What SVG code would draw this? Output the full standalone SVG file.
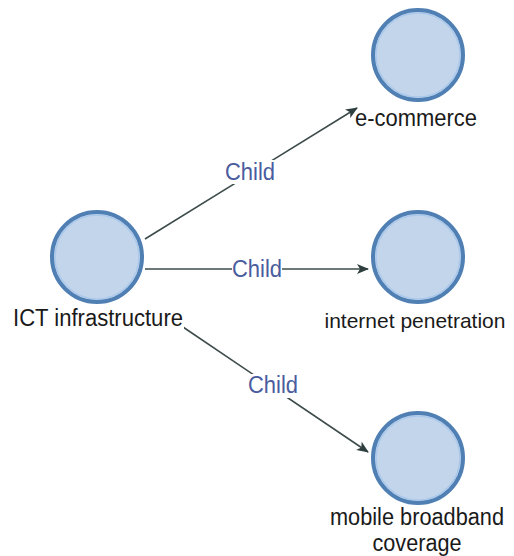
<svg xmlns="http://www.w3.org/2000/svg" width="514" height="556" viewBox="0 0 514 556">
<defs>
<style>
.node circle.o{fill:#c3d5ea;stroke:#4f7fb3;stroke-width:4}
.node circle.i{fill:none;stroke:#a9c8ec;stroke-width:1.5}
.lbl{font-family:"Liberation Sans",Arial,sans-serif;font-size:23px;fill:#1a1a1a;text-anchor:middle}
.edge{stroke:#3d4b4b;stroke-width:1.6;fill:none;marker-end:url(#arr)}
.el{font-family:"Liberation Sans",Arial,sans-serif;font-size:23px;fill:#4a5c9e;text-anchor:middle}
.bg{fill:#ffffff}
</style>
<marker id="arr" viewBox="0 0 12 10" refX="11" refY="5" markerWidth="12" markerHeight="10" markerUnits="userSpaceOnUse" orient="auto">
<path d="M0,0 L12,5 L0,10 L3,5 Z" fill="#2f3f3f"/>
</marker>
</defs>
<rect width="514" height="556" fill="#ffffff"/>
<g id="connectors">
<line class="edge" x1="145" y1="239" x2="357" y2="108"/>
<line class="edge" x1="145" y1="269" x2="368" y2="269"/>
<line class="edge" x1="180" y1="325" x2="368" y2="452"/>
<rect class="bg" x="225" y="160" width="50" height="24"/>
<text class="el" x="250" y="180" textLength="50" lengthAdjust="spacingAndGlyphs">Child</text>
<rect class="bg" x="232" y="257" width="50" height="24"/>
<text class="el" x="257" y="277" textLength="50" lengthAdjust="spacingAndGlyphs">Child</text>
<rect class="bg" x="248" y="374" width="50" height="24"/>
<text class="el" x="273" y="393" textLength="50" lengthAdjust="spacingAndGlyphs">Child</text>
</g>
<g id="ict" class="node">
<circle class="o" cx="97" cy="257" r="45"/>
<circle class="i" cx="97" cy="257" r="42"/>
<rect class="bg" x="12" y="308" width="172" height="22"/>
<text class="lbl" x="98" y="326" textLength="170" lengthAdjust="spacingAndGlyphs">ICT infrastructure</text>
</g>
<g id="ecommerce" class="node">
<circle class="o" cx="418" cy="55" r="45"/>
<circle class="i" cx="418" cy="55" r="42"/>
<text class="lbl" x="416" y="126" textLength="122" lengthAdjust="spacingAndGlyphs">e-commerce</text>
</g>
<g id="internet" class="node">
<circle class="o" cx="418" cy="257" r="45"/>
<circle class="i" cx="418" cy="257" r="42"/>
<text class="lbl" x="415" y="328" style="font-size:21px">internet penetration</text>
</g>
<g id="mobile" class="node">
<circle class="o" cx="418" cy="458" r="45"/>
<circle class="i" cx="418" cy="458" r="42"/>
<text class="lbl" x="417" y="525" textLength="174" lengthAdjust="spacingAndGlyphs">mobile broadband</text>
<text class="lbl" x="417" y="551" textLength="89" lengthAdjust="spacingAndGlyphs">coverage</text>
</g>
</svg>
